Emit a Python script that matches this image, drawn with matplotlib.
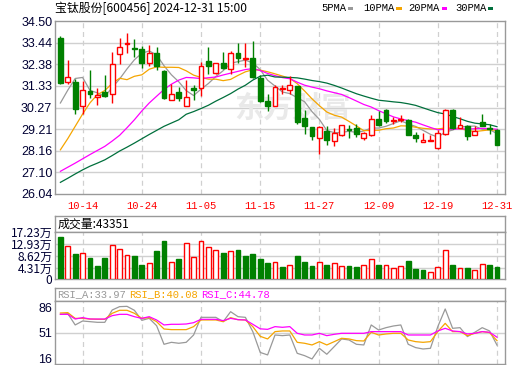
import matplotlib
matplotlib.use('Agg')
import matplotlib.pyplot as plt
from matplotlib.patches import Rectangle
import numpy as np

# ---------------- data ----------------
title_name = '宝钛股份[600456] 2024-12-31 15:00'
date_labels = ['10-14', '10-24', '11-05', '11-15', '11-27', '12-09', '12-19', '12-31']
date_label_idx = [3, 11, 19, 27, 35, 43, 51, 59]
price_tick_labels = ['26.04', '27.10', '28.16', '29.21', '30.27', '31.33', '32.38', '33.44', '34.50']
vol_tick_labels = ['0', '4.31万', '8.62万', '12.93万', '17.23万']
rsi_tick_labels = ['16', '51', '86']
ma_names = ['5PMA', '10PMA', '20PMA', '30PMA']

opens = [33.65, 31.52, 31.51, 30.36, 31.07, 30.76, 31.02, 30.95, 32.87, 33.37,
         33.18, 33.11, 32.43, 32.92, 32.05, 30.66, 31.02, 30.36, 31.21, 31.23,
         32.56, 31.98, 32.47, 32.13, 32.92, 32.64, 32.67, 31.69, 30.58, 30.36,
         31.18, 31.15, 31.31, 29.77, 29.31, 28.78, 29.10, 28.62, 28.94, 29.23,
         29.27, 28.79, 28.91, 29.72, 30.13, 29.63, 29.67, 29.67, 28.91, 28.59,
         28.63, 28.30, 28.99, 30.17, 29.28, 29.35, 28.94, 29.54, 29.27, 29.15]
highs = [33.77, 32.59, 31.64, 31.56, 32.10, 31.20, 31.85, 33.00, 33.65, 33.90,
         33.62, 33.28, 33.33, 33.21, 32.10, 31.44, 31.28, 31.61, 31.36, 32.49,
         33.21, 32.46, 33.00, 33.03, 33.41, 33.44, 33.52, 31.85, 30.95, 31.36,
         31.39, 31.80, 31.34, 30.17, 29.33, 29.36, 29.35, 29.25, 29.42, 29.40,
         29.45, 29.05, 29.89, 30.09, 30.22, 29.82, 29.92, 29.71, 29.07, 29.02,
         28.91, 29.15, 30.22, 30.22, 29.81, 29.40, 29.35, 29.94, 29.48, 29.23]
lows = [31.44, 31.44, 29.94, 29.97, 30.74, 30.40, 30.79, 30.51, 32.38, 32.92,
        32.75, 32.18, 32.29, 32.10, 30.71, 30.62, 30.59, 30.33, 30.62, 30.82,
        31.90, 31.93, 32.13, 31.93, 32.43, 32.26, 31.69, 30.54, 30.10, 30.33,
        30.93, 30.95, 29.48, 28.95, 28.69, 28.01, 28.46, 28.37, 28.90, 28.79,
        28.82, 28.66, 28.87, 29.35, 29.51, 29.48, 29.56, 28.91, 28.58, 28.59,
        28.63, 28.25, 28.91, 29.23, 29.27, 28.66, 28.94, 29.35, 28.99, 28.43]
closes = [31.48, 31.74, 30.20, 31.15, 30.95, 30.90, 30.85, 32.38, 33.24, 33.42,
          33.13, 32.46, 32.92, 32.31, 30.74, 30.92, 30.74, 30.76, 31.12, 32.29,
          32.31, 32.43, 32.21, 32.92, 32.70, 32.67, 31.74, 30.58, 30.33, 31.28,
          31.21, 31.36, 29.56, 29.35, 28.86, 29.31, 28.66, 29.02, 29.39, 29.18,
          28.99, 29.04, 29.72, 29.40, 29.61, 29.66, 29.72, 28.94, 28.79, 28.66,
          28.68, 29.04, 30.17, 29.28, 29.40, 28.86, 29.10, 29.38, 29.20, 28.43]
volumes_wan = [15.6, 12.2, 9.3, 9.6, 7.8, 4.9, 7.8, 12.6, 11.1, 8.9,
               8.5, 5.2, 6.0, 10.4, 14.0, 6.3, 7.4, 13.3, 8.2, 14.0,
               11.8, 10.7, 9.8, 10.4, 10.9, 8.7, 9.4, 7.4, 6.1, 6.3,
               4.5, 5.2, 8.7, 6.5, 5.0, 6.3, 5.2, 6.0, 4.9, 5.0,
               4.5, 5.2, 7.4, 5.2, 5.2, 4.1, 4.9, 6.7, 3.8, 3.4,
               2.7, 4.5, 10.7, 5.2, 4.1, 4.1, 3.4, 5.6, 5.2, 4.3351]
last_volume = 43351

# moving-average values before enough in-window history exists
ma5_head = [30.49, 31.12, 31.69, 31.74]
ma10_head = [28.20, 28.75, 29.35, 29.95, 30.50, 30.90, 31.10, 31.45, 31.70]
ma20_head = [27.15, 27.35, 27.55, 27.76, 27.97, 28.17, 28.37, 28.63, 28.91, 29.28,
             29.67, 30.10, 30.49, 30.82, 31.15, 31.41, 31.61, 31.74, 31.72]
ma30_head = [26.61, 26.81, 27.02, 27.22, 27.40, 27.55, 27.71, 27.92, 28.14, 28.33,
             28.53, 28.74, 28.95, 29.15, 29.35, 29.51, 29.67, 29.94, 30.07, 30.22,
             30.38, 30.58, 30.76, 30.95, 31.17, 31.36, 31.61, 31.80, 31.85]

rsi_a = [76.0, 76.9, 61.5, 66.9, 66.0, 65.1, 65.1, 81.9, 86.5, 86.9,
         81.5, 67.8, 70.5, 60.5, 35.1, 37.8, 36.5, 37.8, 47.8, 71.9,
         71.9, 71.9, 66.0, 79.6, 72.8, 71.9, 52.4, 24.0, 20.6, 47.8,
         46.9, 47.8, 22.8, 19.6, 15.1, 29.6, 21.5, 31.9, 42.4, 41.0,
         35.1, 34.2, 61.5, 54.6, 57.8, 60.1, 61.5, 35.1, 30.6, 28.7,
         29.6, 59.2, 83.3, 56.9, 57.8, 45.6, 51.5, 57.8, 53.3, 33.97]
rsi_b = [77.8, 78.3, 70.5, 70.5, 69.6, 69.2, 69.2, 77.4, 81.5, 81.5,
         77.4, 70.5, 71.5, 66.0, 56.0, 55.1, 55.1, 55.1, 59.2, 68.3,
         68.3, 68.3, 66.0, 71.5, 68.7, 68.3, 59.2, 46.0, 42.4, 52.4,
         53.3, 53.3, 37.8, 36.5, 34.2, 38.7, 34.2, 38.7, 43.3, 42.4,
         40.1, 39.6, 51.5, 47.8, 49.2, 50.1, 50.1, 41.0, 38.7, 37.8,
         38.7, 52.4, 63.7, 52.4, 52.4, 46.9, 50.1, 52.4, 51.0, 40.08]
rsi_c = [76.0, 76.0, 69.6, 71.5, 69.6, 69.6, 69.6, 74.2, 76.0, 76.0,
         72.8, 70.5, 72.8, 68.3, 61.5, 62.4, 62.4, 62.8, 64.6, 69.2,
         69.2, 69.2, 67.4, 70.5, 68.7, 68.3, 62.4, 56.2, 55.5, 59.2,
         58.3, 59.2, 50.1, 47.8, 47.8, 50.1, 46.9, 48.7, 50.1, 50.1,
         50.1, 50.1, 52.4, 52.4, 52.4, 52.4, 52.4, 47.8, 47.8, 47.8,
         47.8, 53.3, 56.9, 53.3, 52.4, 49.2, 50.1, 52.4, 51.5, 44.78]

# ---------------- derived ----------------
n = len(closes)
x = np.arange(n)


def moving_average(head, window):
    out = list(head)
    for i in range(len(head), n):
        out.append(float(np.mean(closes[i - window + 1:i + 1])))
    return out


ma5 = moving_average(ma5_head, 5)
ma10 = moving_average(ma10_head, 10)
ma20 = moving_average(ma20_head, 20)
ma30 = moving_average(ma30_head, 30)

RED = '#ff0000'
GREEN = '#008000'
GRID = '#d0d0d0'
FRAME = '#999999'
MA_COLORS = ['#999999', '#f5a500', '#ff00ff', '#006f3c']
LABEL = '#000033'
CJK = ['Noto Sans CJK SC', 'DejaVu Sans']
MONO = ['Liberation Mono', 'DejaVu Sans Mono']
NUM = ['Liberation Sans', 'DejaVu Sans']

W, H = 520, 365
fig = plt.figure(figsize=(W / 100, H / 100), dpi=100)
fig.patch.set_facecolor('white')


def add_ax(left, top, right, bottom):
    return fig.add_axes([left / W, (H - bottom) / H, (right - left) / W, (bottom - top) / H])


XL, XR = 55, 505
xlim = (-0.73, 60.08)


def style(ax):
    for s in ax.spines.values():
        s.set_color(FRAME)
        s.set_linewidth(1.0)
    ax.set_xlim(*xlim)
    ax.set_xticks([])
    ax.tick_params(axis='y', length=0, pad=2)


def vgrid(ax):
    for i in date_label_idx:
        ax.axvline(i, color=GRID, lw=0.9, ls=(0, (4, 3)), zorder=0)


# ---------------- main price panel ----------------
ax = add_ax(XL, 21, XR, 194)
style(ax)
ax.set_ylim(26.04, 34.50)
pticks = np.linspace(26.04, 34.50, 9)
ax.set_yticks(pticks)
ax.set_yticklabels(price_tick_labels, family=NUM, fontsize=9, color=LABEL)
for v in pticks[1:-1]:
    ax.axhline(v, color=GRID, lw=1.0, zorder=0)
vgrid(ax)
ax.text(0.527, 0.50, '东方财富', transform=ax.transAxes, family=CJK, fontsize=21,
        fontweight='bold', color='#e9e9e9', ha='center', va='center', zorder=0.5)

ma_list = [ma5, ma10, ma20, ma30]
for vals, c in zip(ma_list, MA_COLORS):
    ax.plot(x, vals, color=c, lw=0.9, zorder=2)

bw = 0.63
for i in range(n):
    o, h, l, c = opens[i], highs[i], lows[i], closes[i]
    up = c >= o
    col = RED if up else GREEN
    ax.vlines(i, l, h, color=col, lw=1.0, zorder=3)
    bot = min(o, c)
    ht = max(abs(c - o), 0.025)
    ax.add_patch(Rectangle((i - bw / 2, bot), bw, ht, facecolor='white' if up else GREEN,
                           edgecolor=col, lw=1.0, zorder=4))

# title and legend
fig.text(55 / W, 1 - 8 / H, title_name, family=CJK, fontsize=8.6, color='black', va='center', ha='left')
leg_x = [321.7, 363.3, 408.0, 455.0]
sq_x = [347.7, 396.0, 441.7, 487.7]
for name, lx, sx, c in zip(ma_names, leg_x, sq_x, MA_COLORS):
    fig.text(lx / W, 1 - 8 / H, name, family=MONO, fontsize=7.6, color='black', va='center', ha='left')
    fig.patches.append(Rectangle((sx / W, 1 - 9.5 / H), 5.6 / W, 3.0 / H, transform=fig.transFigure,
                                 facecolor=c, edgecolor='none'))

# date labels
for lab, i in zip(date_labels, date_label_idx):
    px = XL + (i - xlim[0]) / (xlim[1] - xlim[0]) * (XR - XL)
    fig.text(px / W, 1 - 206 / H, lab, family=MONO, fontsize=7.6, color=RED, ha='center', va='center')

# ---------------- volume panel ----------------
axvh = add_ax(XL, 215.7, XR, 232.3)
style(axvh)
axvh.set_yticks([])
axvh.text(0.006, 0.5, '成交量:' + str(last_volume), transform=axvh.transAxes, family=CJK,
          fontsize=8.6, color='black', va='center', ha='left')

axv = add_ax(XL, 232.3, XR, 279.3)
style(axv)
axv.set_ylim(0, 17.23)
vticks = np.linspace(0, 17.23, 5)
axv.set_yticks(vticks)
axv.set_yticklabels(vol_tick_labels, family=CJK, fontsize=8.6, color=LABEL)
for v in vticks[1:-1]:
    axv.axhline(v, color=GRID, lw=1.0, zorder=0)
vgrid(axv)
for i in range(n):
    prev = opens[0] if i == 0 else closes[i - 1]
    up = closes[i] >= prev
    axv.bar(i, volumes_wan[i], width=bw, facecolor='white' if up else GREEN,
            edgecolor=RED if up else GREEN, lw=1.0, zorder=3)

# ---------------- RSI panel ----------------
axrh = add_ax(XL, 288.3, XR, 300.7)
style(axrh)
axrh.set_yticks([])
rsi_names = ['RSI_A', 'RSI_B', 'RSI_C']
rsi_vals = [rsi_a, rsi_b, rsi_c]
rsi_colors = ['#999999', '#f5a500', '#ff00ff']
rsi_tx = [57.5, 129.5, 201.5]
for nm, vals, c, tx in zip(rsi_names, rsi_vals, rsi_colors, rsi_tx):
    fig.text(tx / W, 1 - 294.5 / H, '%s:%.2f' % (nm, vals[-1]), family=MONO, fontsize=7.6,
             color=c, va='center', ha='left')

axr = add_ax(XL, 300.7, XR, 364.3)
style(axr)
axr.set_ylim(7.8, 94.6)
axr.set_yticks([16, 51, 86])
axr.set_yticklabels(rsi_tick_labels, family=NUM, fontsize=9, color=LABEL)
axr.axhline(51, color=GRID, lw=1.0, zorder=0)
vgrid(axr)
for vals, c in zip(rsi_vals, rsi_colors):
    axr.plot(x, vals, color=c, lw=0.9, zorder=2)

fig.savefig('out.png', dpi=100, facecolor='white')
